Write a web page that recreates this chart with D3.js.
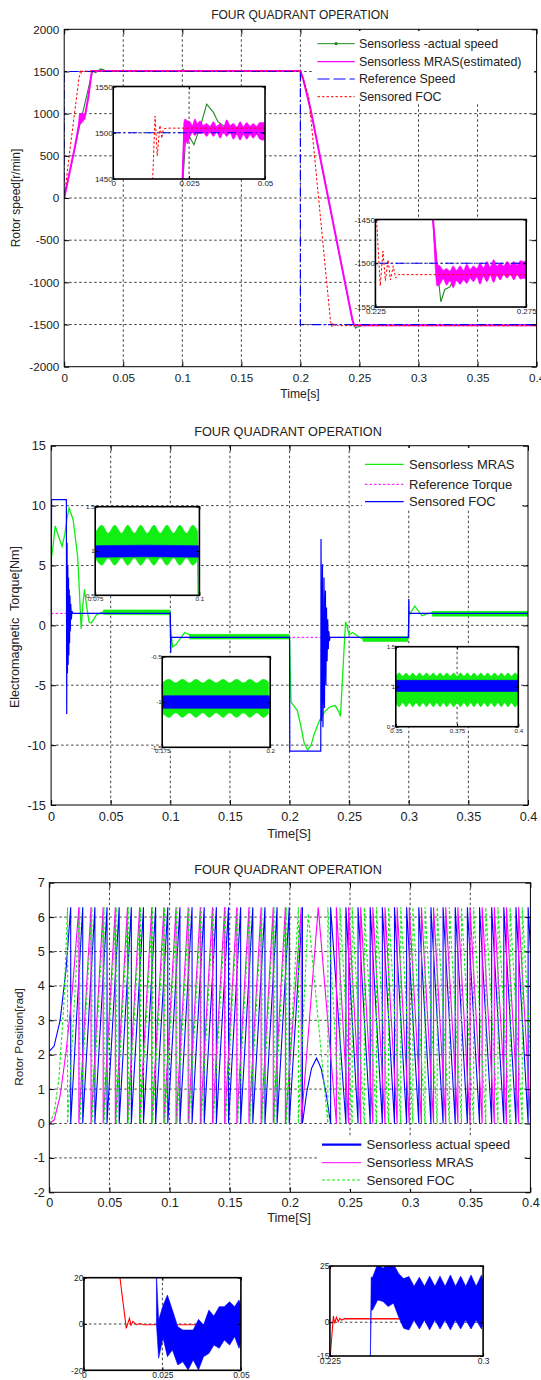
<!DOCTYPE html>
<meta charset="utf-8">
<style>
  body { margin: 0; background: #fff; }
  svg { display: block; font-family: "Liberation Sans", Arial, sans-serif; }
  .grid line { stroke: #111; stroke-width: 0.8; stroke-dasharray: 2.5,2.5; }
  .frame { fill: none; stroke: #000; stroke-width: 1; }
  .inset-frame { fill: none; stroke: #000; stroke-width: 1.6; }
</style>
<body>
<svg id="fig" width="541" height="1380"></svg>
<script src="https://d3js.org/d3.v7.min.js"></script>
<script>

// ---------- figure 1 : rotor speed ----------
var timeTicks = [0, 0.05, 0.1, 0.15, 0.2, 0.25, 0.3, 0.35, 0.4];
var speedTicks = [-2000, -1500, -1000, -500, 0, 500, 1000, 1500, 2000];

var speedRef = [[0,0],[0,1500],[0.2,1500],[0.2,-1500],[0.4,-1500]];
var speedActual = [[0,0],[0.012,790],[0.023,1450],[0.024,1502],[0.0266,1487],[0.029,1510],[0.0308,1531],[0.033,1522],[0.0345,1512],[0.037,1506],[0.099,1505],[0.1005,1525],[0.102,1506],[0.2,1505],[0.2026,1400],[0.2088,1040],[0.2441,-1450],[0.2455,-1505],[0.2467,-1544],[0.248,-1530],[0.2497,-1527],[0.252,-1512],[0.26,-1508],[0.4,-1508]];
var speedMras = [[0,0],[0.009,600],[0.0125,870],[0.0135,1000],[0.014,880],[0.015,1010],[0.0155,900],[0.0165,1000],[0.017,930],[0.0205,1200],[0.0229,1455],[0.0235,1505],[0.2,1505],[0.2026,1400],[0.2088,1040],[0.2441,-1450],[0.2455,-1510],[0.4,-1510]];
var speedFoc = [[0,0],[0.0041,489],[0.0125,1420],[0.013,1450],[0.0138,1518],[0.0145,1475],[0.0154,1508],[0.016,1494],[0.0165,1504],[0.0176,1505],[0.2,1505],[0.2071,1200],[0.2254,-1450],[0.2266,-1526],[0.2275,-1486],[0.2283,-1520],[0.2292,-1496],[0.23,-1519],[0.2309,-1503],[0.2317,-1517],[0.2326,-1513],[0.4,-1514]];
// ripple band of the MRAS estimate [t, upper, lower]
var mrasBandStart = [[0.0229,1450,1450],[0.0233,1512,1490],[0.0237,1515,1494],[0.0244,1513,1488],[0.0253,1512,1496],[0.0261,1508,1500],[0.0269,1515,1497],[0.0278,1510,1500],[0.0286,1513,1499],[0.0297,1508,1500],[0.0308,1510,1496],[0.0319,1507,1501],[0.033,1512,1496],[0.0341,1507,1501],[0.0352,1510,1494],[0.0363,1506,1500],[0.0374,1514,1496],[0.0385,1508,1500],[0.0396,1510,1493],[0.0407,1506,1498],[0.0418,1512,1492],[0.0429,1507,1498],[0.044,1511,1493],[0.0451,1507,1498],[0.0461,1510,1494],[0.0472,1507,1498],[0.0483,1511,1493],[0.0494,1511,1492],[0.05,1510,1494]];
var mrasBandEnd = [[0.2441,-1450,-1450],[0.2455,-1501,-1526],[0.2464,-1503,-1524],[0.2475,-1508,-1518],[0.2486,-1506,-1525],[0.2497,-1509,-1520],[0.2508,-1503,-1528],[0.2519,-1508,-1520],[0.2531,-1503,-1524],[0.2542,-1508,-1519],[0.2553,-1501,-1523],[0.2564,-1507,-1517],[0.2575,-1503,-1521],[0.2586,-1506,-1516],[0.2597,-1500,-1524],[0.2608,-1505,-1515],[0.262,-1498,-1521],[0.2631,-1504,-1514],[0.2642,-1496,-1522],[0.2653,-1503,-1514],[0.2664,-1500,-1519],[0.2675,-1503,-1513],[0.2687,-1498,-1517],[0.2698,-1502,-1513],[0.2709,-1498,-1519],[0.272,-1502,-1513],[0.2731,-1497,-1518],[0.2742,-1498,-1517],[0.2755,-1497,-1518]];

// ---------- figure 2 : electromagnetic torque ----------
var torqueTicks = [-15, -10, -5, 0, 5, 10, 15];
var torqueRef = [[0,1],[0.1,1],[0.1,-1],[0.3,-1],[0.3,1],[0.4,1]];
var torqueFoc = [[0,0],[0.0004,10.5],[0.0128,10.5],[0.0131,-7.4],[0.0134,6.9],[0.0137,-4],[0.014,5],[0.0143,-3.3],[0.0146,4],[0.0149,-2.5],[0.0152,3],[0.0155,-1.5],[0.0158,2.5],[0.0161,-0.5],[0.0165,1.8],[0.017,0.5],[0.0175,1.2],[0.018,1],[0.0998,1],[0.1,1],[0.1003,-2.3],[0.1007,-1],[0.2,-1],[0.2002,-10.5],[0.2262,-10.5],[0.2264,7.2],[0.2268,-8],[0.2272,-2],[0.2276,5.1],[0.228,-8.5],[0.2285,-4],[0.2289,4],[0.2293,-6.9],[0.2297,1],[0.2301,2.9],[0.2305,-5],[0.231,1.5],[0.2315,-3],[0.232,0.5],[0.2325,-2],[0.233,-0.5],[0.2335,-1.3],[0.234,-1],[0.2998,-1],[0.3,2.2],[0.3003,1],[0.4,1]];
var torqueMras = [[0,0],[0.0003,5.7],[0.0015,6.5],[0.0034,8.3],[0.006,7.5],[0.0092,6.6],[0.0115,7.6],[0.0135,9],[0.015,9.8],[0.0165,9.4],[0.0185,8.8],[0.0205,7.2],[0.0223,5.7],[0.0237,2.9],[0.0252,-0.3],[0.0265,1.6],[0.028,3],[0.0301,1.4],[0.0318,0.3],[0.0338,0.2],[0.0382,0.9],[0.044,1.15],[0.0995,1.1],[0.0998,0.2],[0.1019,-1.8],[0.1048,-1.6],[0.1077,-1.2],[0.112,-0.6],[0.1163,-0.8],[0.125,-0.95],[0.1995,-0.95],[0.2,-1],[0.2012,-6.4],[0.2035,-6.7],[0.2064,-7.1],[0.2093,-8.3],[0.2122,-9.8],[0.2151,-10.4],[0.218,-10],[0.2209,-9],[0.2253,-7.9],[0.2296,-7.2],[0.234,-6.8],[0.2383,-6.7],[0.2412,-7.2],[0.2427,-7.6],[0.2441,-5],[0.2456,-2.2],[0.247,0.3],[0.2485,-0.2],[0.25,-0.8],[0.2529,-0.6],[0.2572,-0.9],[0.2616,-1.15],[0.2992,-1.15],[0.3006,0.9],[0.305,1.6],[0.308,1.2],[0.311,0.8],[0.3153,0.95],[0.3197,1.05],[0.4,0.95]];
var torqueMrasRipple = [
  [[0.044,1.29,0.9],[0.0995,1.29,0.88]],
  [[0.116,-0.75,-1.15],[0.1995,-0.75,-1.15]],
  [[0.2616,-0.95,-1.35],[0.2992,-0.95,-1.35]],
  [[0.3197,1.17,0.77],[0.4,1.17,0.77]]
];
var rippleA = [[0.075,1.2,0.92],[0.0766,1.29,0.84],[0.0781,1.2,0.92],[0.0797,1.29,0.84],[0.0813,1.2,0.92],[0.0828,1.29,0.84],[0.0844,1.2,0.92],[0.0859,1.29,0.84],[0.0875,1.2,0.92],[0.0891,1.29,0.84],[0.0906,1.2,0.92],[0.0922,1.29,0.84],[0.0938,1.2,0.92],[0.0953,1.29,0.84],[0.0969,1.2,0.92],[0.0984,1.29,0.84],[0.0996,1.22,0.9]];
var rippleB = [[0.175,-0.79,-1.12],[0.1766,-0.75,-1.17],[0.1781,-0.79,-1.12],[0.1797,-0.75,-1.17],[0.1813,-0.79,-1.12],[0.1828,-0.75,-1.17],[0.1844,-0.79,-1.12],[0.1859,-0.75,-1.17],[0.1875,-0.79,-1.12],[0.1891,-0.75,-1.17],[0.1906,-0.79,-1.12],[0.1922,-0.75,-1.17],[0.1938,-0.79,-1.12],[0.1953,-0.75,-1.17],[0.1969,-0.79,-1.12],[0.1984,-0.75,-1.17],[0.1996,-0.78,-1.13]];
var rippleC = [[0.35,1.13,0.8],[0.3514,1.17,0.75],[0.3528,1.13,0.8],[0.3542,1.17,0.75],[0.3556,1.13,0.8],[0.3569,1.17,0.75],[0.3583,1.13,0.8],[0.3597,1.17,0.75],[0.3611,1.13,0.8],[0.3625,1.17,0.75],[0.3639,1.13,0.8],[0.3653,1.17,0.75],[0.3667,1.13,0.8],[0.3681,1.17,0.75],[0.3694,1.13,0.8],[0.3708,1.17,0.75],[0.3722,1.13,0.8],[0.3736,1.17,0.75],[0.375,1.13,0.8],[0.3764,1.17,0.75],[0.3778,1.13,0.8],[0.3792,1.17,0.75],[0.3806,1.13,0.8],[0.3819,1.17,0.75],[0.3833,1.13,0.8],[0.3847,1.17,0.75],[0.3861,1.13,0.8],[0.3875,1.17,0.75],[0.3889,1.13,0.8],[0.3903,1.17,0.75],[0.3917,1.13,0.8],[0.3931,1.17,0.75],[0.3944,1.13,0.8],[0.3958,1.17,0.75],[0.3972,1.13,0.8],[0.3986,1.17,0.75],[0.4,1.13,0.8]];
var focBandA = [[0.075,1.06,0.93],[0.0875,1.065,0.935],[0.0998,1.06,0.93]];
var focBandB = [[0.175,-0.93,-1.07],[0.1998,-0.93,-1.07]];
var focBandC = [[0.35,1.08,0.94],[0.4,1.08,0.94]];

// ---------- figure 3 : rotor position (sawtooth wrap times) ----------
var posTicks = [-2, -1, 0, 1, 2, 3, 4, 5, 6, 7];
var posTop = 6.283;
var posActualStart = [[0,2.1],[0.004,2.25],[0.009,3],[0.014,4.5],[0.0178,6.283]];
var posActualFwd = [0.0178,0.0278,0.0379,0.048,0.0581,0.0682,0.0783,0.0884,0.0985,0.1086,0.1187,0.1288,0.1389,0.149,0.1591,0.1692,0.1793,0.1894,0.1995,0.2105];
var posActualTurn = [[0.214,0.9],[0.218,1.6],[0.2222,1.9],[0.226,1.6],[0.23,0.9],[0.2339,0]];
var posActualRev = [0.2339,0.2466,0.2567,0.2668,0.2769,0.287,0.2971,0.3072,0.3173,0.3274,0.3375,0.3476,0.3577,0.3678,0.3779,0.388,0.3981,0.4082];
var posMrasStart = [[0,0],[0.004,0.1],[0.009,0.8],[0.014,2.1],[0.019,3.8],[0.0246,6.283]];
var posMrasFwd = [0.0246,0.0347,0.0448,0.0549,0.065,0.0751,0.0852,0.0953,0.1054,0.1155,0.1256,0.1357,0.1458,0.1559,0.166,0.1761,0.1862,0.1963,0.2095];
var posMrasTurn = [[0.2236,6.283],[0.2387,0]];
var posMrasRev = [0.2387,0.2488,0.2589,0.269,0.2791,0.2892,0.2993,0.3094,0.3195,0.3296,0.3397,0.3498,0.3599,0.37,0.3801,0.3902,0.4003];
var posFocStart = [[0,0],[0.004,0.3],[0.008,1.3],[0.012,3.4],[0.0152,6.283]];
var posFocFwd = [0.0152,0.0253,0.0354,0.0455,0.0556,0.0657,0.0758,0.0859,0.096,0.1061,0.1162,0.1263,0.1364,0.1465,0.1566,0.1667,0.1768,0.1869,0.197,0.2071];
var posFocTurn = [[0.2152,6.1],[0.2316,0]];
var posFocRev = [0.2316,0.2417,0.2518,0.2619,0.272,0.2821,0.2922,0.3023,0.3124,0.3225,0.3326,0.3427,0.3528,0.3629,0.373,0.3831,0.3932,0.4033];

// ---------- bottom zoom boxes ----------
var errFocStart = [[0.0113,22],[0.0135,-1.9],[0.0145,2.4],[0.015,-0.5],[0.0156,1.1],[0.0167,-0.3],[0.0178,0.2],[0.019,-0.3],[0.05,-0.3]];
var errMrasStart = [[0.0231,22,0],[0.0238,1.7,-14.8],[0.0252,8,-6],[0.0266,12.5,-14.1],[0.0282,6,-11.2],[0.0299,-1.2,-17.7],[0.0315,-2.6,-16.3],[0.0332,-2.6,-19.9],[0.0348,-2.6,-15.5],[0.0365,2,-19.9],[0.0381,-0.4,-14.1],[0.0398,6,-12.7],[0.0414,3.5,-9.1],[0.0431,7.5,-10.5],[0.0447,7.5,-6.9],[0.0464,9.6,-9.1],[0.048,7.5,-5.5],[0.0494,10.4,-10.5],[0.05,8,-8]];
var errFocEnd = [[0.2251,-16],[0.2267,2.8],[0.2273,-0.5],[0.2282,2.2],[0.2291,0.3],[0.2299,1.7],[0.2307,1],[0.2324,1.6],[0.3,1.5]];
var errMrasEnd = [[0.2448,-16,-16],[0.2452,20,5.4],[0.2459,20,5.4],[0.2484,26,9.9],[0.251,24,9.2],[0.2535,26,7],[0.2561,26,8.5],[0.2586,21.7,2.5],[0.2611,19.4,-2.7],[0.2637,20.3,-3.4],[0.2662,16,1],[0.2688,20,-3],[0.2713,16,1],[0.2738,20.5,-3.4],[0.2764,16,1],[0.2789,20.5,-3],[0.2814,16,1],[0.284,21,-3.4],[0.2865,16,1],[0.289,20.5,-3],[0.2915,16,1],[0.2941,21,-3],[0.2966,16,1],[0.2992,21,-3],[0.3,18,0]];

// ---------- helpers ----------
var svg = d3.select("#fig"),
    defs = svg.append("defs"),
    clipN = 0;

function clipFor(b) {
  var id = "c" + (clipN++);
  defs.append("clipPath").attr("id", id).append("rect")
      .attr("x", b.x0).attr("y", b.y0).attr("width", b.x1 - b.x0).attr("height", b.y1 - b.y0);
  return "url(#" + id + ")";
}

function styleAxis(sel, fs) {
  sel.attr("font-size", null).attr("font-family", null);
  sel.select(".domain").remove();
  sel.selectAll(".tick line").attr("stroke", "#000");
  sel.selectAll(".tick text").attr("fill", "#222").style("font-size", fs + "px");
}

function axesBox(b, xd, yd, xt, yt, o) {
  var x = d3.scaleLinear().domain(xd).range([b.x0, b.x1]),
      y = d3.scaleLinear().domain(yd).range([b.y1, b.y0]),
      root = svg.append("g");

  if (o.bg) root.append("rect").attr("x", b.x0).attr("y", b.y0)
      .attr("width", b.x1 - b.x0).attr("height", b.y1 - b.y0).attr("fill", "#fff");

  var grid = root.append("g").attr("class", "grid");
  grid.selectAll(null).data(o.gridX).enter().append("line")
      .attr("x1", function(d) { return x(d); }).attr("x2", function(d) { return x(d); })
      .attr("y1", b.y0).attr("y2", b.y1);
  grid.selectAll(null).data(o.gridY).enter().append("line")
      .attr("y1", function(d) { return y(d); }).attr("y2", function(d) { return y(d); })
      .attr("x1", b.x0).attr("x2", b.x1);

  var data = root.append("g").attr("clip-path", clipFor(b)),
      ax = root.append("g"),
      fmt = function(d) { return String(d); };

  ax.append("g").attr("transform", "translate(0," + b.y1 + ")")
    .call(d3.axisBottom(x).tickValues(xt).tickSize(-o.tick).tickPadding(o.padX).tickFormat(fmt))
    .call(styleAxis, o.fs);
  ax.append("g").attr("transform", "translate(0," + b.y0 + ")")
    .call(d3.axisTop(x).tickValues(xt).tickSize(-o.tick).tickFormat(""))
    .call(styleAxis, o.fs);
  ax.append("g").attr("transform", "translate(" + b.x0 + ",0)")
    .call(d3.axisLeft(y).tickValues(yt).tickSize(-o.tick).tickPadding(o.padY).tickFormat(fmt))
    .call(styleAxis, o.fs);
  ax.append("g").attr("transform", "translate(" + b.x1 + ",0)")
    .call(d3.axisRight(y).tickValues(yt).tickSize(-o.tick).tickFormat(""))
    .call(styleAxis, o.fs);
  ax.append("rect").attr("class", o.inset ? "inset-frame" : "frame")
    .attr("x", b.x0).attr("y", b.y0).attr("width", b.x1 - b.x0).attr("height", b.y1 - b.y0);

  return {x: x, y: y, g: data};
}

function line(p, rows, color, width, dash) {
  p.g.append("path").datum(rows)
    .attr("d", d3.line().x(function(d) { return p.x(d[0]); }).y(function(d) { return p.y(d[1]); }))
    .attr("fill", "none").attr("stroke", color).attr("stroke-width", width)
    .attr("stroke-dasharray", dash || null);
}

function band(p, rows, color, curve) {
  p.g.append("path").datum(rows)
    .attr("d", d3.area().curve(curve || d3.curveLinear)
      .x(function(d) { return p.x(d[0]); })
      .y0(function(d) { return p.y(d[2]); })
      .y1(function(d) { return p.y(d[1]); }))
    .attr("fill", color).attr("stroke", color).attr("stroke-width", 0.6);
}

function sawtooth(start, fwd, turn, rev) {
  var pts = start.slice();
  fwd.forEach(function(t, i) {
    pts.push([t, 0]);
    if (i + 1 < fwd.length) pts.push([fwd[i + 1], posTop]);
  });
  turn.forEach(function(p) { pts.push(p); });
  rev.forEach(function(t, i) {
    pts.push([t, posTop]);
    if (i + 1 < rev.length) pts.push([rev[i + 1], 0]);
  });
  return pts;
}

function text(x, y, s, fs, anchor, rot) {
  var t = svg.append("text").attr("font-size", fs).attr("fill", "#222")
    .attr("text-anchor", anchor || "middle").style("white-space", "pre").text(s);
  if (rot) t.attr("transform", "translate(" + x + "," + y + ") rotate(-90)");
  else t.attr("x", x).attr("y", y);
}

function legend(bg, lx0, lx1, tx, rows, fs, items) {
  svg.append("rect").attr("x", bg[0]).attr("y", bg[1]).attr("width", bg[2]).attr("height", bg[3]).attr("fill", "#fff");
  items.forEach(function(it, i) {
    svg.append("line").attr("x1", lx0).attr("x2", lx1).attr("y1", rows[i]).attr("y2", rows[i])
      .attr("stroke", it.color).attr("stroke-width", it.width).attr("stroke-dasharray", it.dash || null);
    if (it.marker) svg.append("circle").attr("cx", (lx0 + lx1) / 2).attr("cy", rows[i]).attr("r", 1.6).attr("fill", it.color);
    text(tx, rows[i] + fs * 0.35, it.label, fs, "start");
  });
}

var GREEN1 = "#1f8a1f", GREEN = "#11ee11", MAG = "#ff00ff", BLUE = "#0000ff", RED = "#ff0000";
var dashDot = "9,3,1.5,3", dotted = "2.5,2";

// ---------- panel 1 ----------
var p1 = axesBox({x0: 64.2, x1: 536.6, y0: 29.3, y1: 366.7}, [0, 0.4], [-2000, 2000], timeTicks, speedTicks,
  {gridX: timeTicks.slice(1, -1), gridY: speedTicks.slice(1, -1), tick: 5, padX: 7, padY: 5, fs: 11.7});
line(p1, speedActual, GREEN1, 1.1);
line(p1, speedMras, MAG, 2);
line(p1, speedRef, BLUE, 1.2, dashDot);
line(p1, speedFoc, RED, 1, dotted);
text(300, 19, "FOUR QUADRANT OPERATION", 12);
text(300, 398, "Time[s]", 12.2);
text(20, 198, "Rotor speed[r/min]", 12, "middle", true);
legend([312, 31, 222, 73], 317.5, 354.7, 358.9, [43.7, 61.7, 79, 96.7], 12.4, [
  {label: "Sensorless -actual speed", color: GREEN1, width: 1, marker: true},
  {label: "Sensorless MRAS(estimated)", color: MAG, width: 1.2},
  {label: "Reference Speed", color: BLUE, width: 1.2, dash: "12,4"},
  {label: "Sensored FOC", color: RED, width: 1, dash: dotted}
]);

[[{x0: 113.2, x1: 265, y0: 86.5, y1: 179}, [0, 0.05], [1450, 1550], [0, 0.025, 0.05], [1450, 1500, 1550], mrasBandStart],
 [{x0: 375.4, x1: 526.2, y0: 219.5, y1: 307}, [0.225, 0.275], [-1550, -1450], [0.225, 0.275], [-1550, -1500, -1450], mrasBandEnd]
].forEach(function(c) {
  var p = axesBox(c[0], c[1], c[2], c[3], c[4],
    {bg: true, inset: true, gridX: c[3].slice(1, -1), gridY: c[4].slice(1, -1), tick: 3, padX: 1.5, padY: 0.5, fs: 8});
  line(p, speedActual, GREEN1, 1.1);
  line(p, speedMras, MAG, 2);
  band(p, c[5], MAG, d3.curveMonotoneX);
  line(p, speedRef, BLUE, 1.2, dashDot);
  line(p, speedFoc, RED, 1, dotted);
});

// ---------- panel 2 ----------
var p2 = axesBox({x0: 51.1, x1: 528, y0: 445.7, y1: 805}, [0, 0.4], [-15, 15], timeTicks, torqueTicks,
  {gridX: timeTicks.slice(1, -1), gridY: torqueTicks.slice(1, -1), tick: 5, padX: 7, padY: 5.2, fs: 12.7});
line(p2, torqueRef, MAG, 1, dotted);
torqueMrasRipple.forEach(function(seg) { band(p2, seg, GREEN); });
line(p2, torqueMras, GREEN, 1.3);
line(p2, torqueFoc, BLUE, 1.2);
text(288, 436, "FOUR QUADRANT OPERATION", 12.7);
text(289, 838, "Time[S]", 12.8);
text(18.5, 627, "Electromagnetic  Torque[Nm]", 12.6, "middle", true);
legend([362, 448, 160, 62], 365, 403.7, 409, [464.3, 484.3, 501.7], 13, [
  {label: "Sensorless MRAS", color: GREEN, width: 1.3},
  {label: "Reference Torque", color: MAG, width: 1, dash: dotted},
  {label: "Sensored FOC", color: BLUE, width: 1.2}
]);

[[{x0: 95.2, x1: 199.4, y0: 506.7, y1: 595.3}, [0.075, 0.1], [0.5, 1.5], [0.075, 0.1], [0.5, 1, 1.5], rippleA, focBandA],
 [{x0: 162.2, x1: 270.2, y0: 656.7, y1: 747.3}, [0.175, 0.2], [-1.5, -0.5], [0.175, 0.2], [-1.5, -1, -0.5], rippleB, focBandB],
 [{x0: 395.8, x1: 518.3, y0: 646.7, y1: 726.7}, [0.35, 0.4], [0.5, 1.5], [0.35, 0.375, 0.4], [0.5, 1, 1.5], rippleC, focBandC]
].forEach(function(c) {
  var p = axesBox(c[0], c[1], c[2], c[3], c[4],
    {bg: true, inset: true, gridX: c[3].slice(1, -1), gridY: c[4].slice(1, -1), tick: 3, padX: 1.5, padY: 0.5, fs: 6.2});
  line(p, torqueRef, MAG, 1, dotted);
  line(p, torqueMras, GREEN, 1.3);
  line(p, torqueFoc, BLUE, 1.2);
  band(p, c[5], GREEN, d3.curveMonotoneX);
  band(p, c[6], BLUE);
});

// ---------- panel 3 ----------
var p3 = axesBox({x0: 49.3, x1: 530.4, y0: 882.7, y1: 1192.3}, [0, 0.4], [-2, 7], timeTicks, posTicks,
  {gridX: timeTicks.slice(1, -1), gridY: posTicks.slice(1, -1), tick: 5, padX: 5.8, padY: 4.4, fs: 12.7});
line(p3, sawtooth(posActualStart, posActualFwd, posActualTurn, posActualRev), BLUE, 1.1);
line(p3, sawtooth(posMrasStart, posMrasFwd, posMrasTurn, posMrasRev), MAG, 1.1);
line(p3, sawtooth(posFocStart, posFocFwd, posFocTurn, posFocRev), GREEN, 1.1, "3,2");
text(288, 873.5, "FOUR QUADRANT OPERATION", 12.7);
text(289, 1222, "Time[S]", 12.8);
text(23, 1037, "Rotor Position[rad]", 11.8, "middle", true);
legend([317, 1137, 205, 52], 322, 361.3, 366.5, [1144.7, 1162.7, 1180], 13.2, [
  {label: "Sensorless actual speed", color: BLUE, width: 2.2},
  {label: "Sensorless MRAS", color: MAG, width: 1},
  {label: "Sensored FOC", color: GREEN, width: 1, dash: "3,2"}
]);

// ---------- bottom zoom boxes ----------
var pD = axesBox({x0: 83.9, x1: 240.9, y0: 1277.7, y1: 1370.3}, [0, 0.05], [-20, 20], [0, 0.025, 0.05], [-20, 0, 20],
  {bg: true, inset: true, gridX: [0.025], gridY: [0], tick: 3, padX: 1.5, padY: 0.5, fs: 8.5});
line(pD, errFocStart, RED, 1.1);
band(pD, errMrasStart, BLUE);

var pE = axesBox({x0: 329.9, x1: 483.1, y0: 1266, y1: 1356}, [0.225, 0.3], [-15, 25], [0.225, 0.3], [-15, 0, 25],
  {bg: true, inset: true, gridX: [], gridY: [0], tick: 3, padX: 1.5, padY: 0.5, fs: 8.5});
line(pE, errFocEnd, RED, 1.1);
band(pE, errMrasEnd, BLUE);

</script>
</body>
